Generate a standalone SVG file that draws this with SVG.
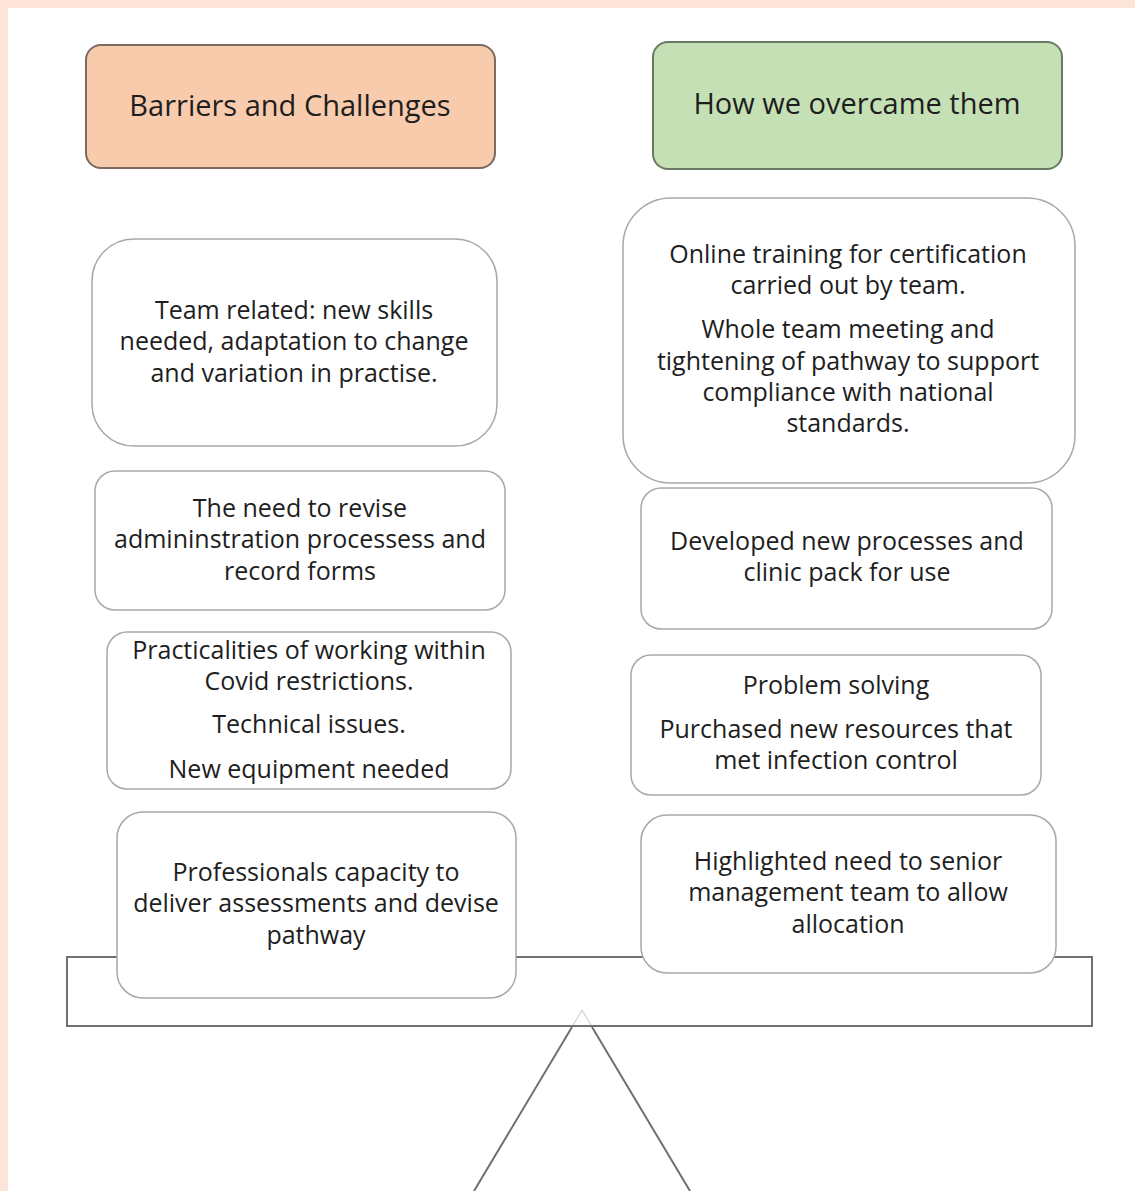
<svg xmlns="http://www.w3.org/2000/svg" width="1135" height="1191" viewBox="0 0 1135 1191">
<style>
.t{font-family:"Open Sans","Liberation Sans",Arial,sans-serif;font-size:25px;fill:#1e1e1e;text-anchor:middle}
.h{font-family:"Open Sans","Liberation Sans",Arial,sans-serif;font-size:29px;fill:#1e1e1e;text-anchor:middle}
.box{fill:#fff;stroke:#a8a8a8;stroke-width:1.5}
.ln{stroke:#707070;stroke-width:2;fill:none}
</style>
<rect x="0" y="0" width="1135" height="1191" fill="#fce4d9"/>
<rect x="8" y="8" width="1127" height="1183" fill="#fff"/>
<g id="seesaw">
<line x1="582" y1="1010" x2="572" y2="1027" stroke="#ddd" stroke-width="1.5"/>
<line x1="582" y1="1010" x2="592" y2="1027" stroke="#ddd" stroke-width="1.5"/>
<line class="ln" x1="572" y1="1027" x2="474" y2="1191"/>
<line class="ln" x1="592" y1="1027" x2="690" y2="1191"/>
<rect class="ln" x="67" y="957" width="1025" height="69" fill="#fff"/>
</g>
<g id="header-left">
<rect x="86" y="45" width="409" height="123" rx="15" fill="#f8cbad" stroke="#7a6a62" stroke-width="2"/>
<text class="h" x="290" y="116">Barriers and Challenges</text>
</g>
<g id="header-right">
<rect x="653" y="42" width="409" height="127" rx="15" fill="#c5e0b4" stroke="#6a7a62" stroke-width="2"/>
<text class="h" x="857" y="114">How we overcame them</text>
</g>
<g id="left1">
<rect class="box" x="92" y="239" width="405" height="207" rx="42"/>
<text class="t" x="294" y="319">Team related: new skills</text>
<text class="t" x="294" y="350">needed, adaptation to change</text>
<text class="t" x="294" y="382">and variation in practise.</text>
</g>
<g id="right1">
<rect class="box" x="623" y="198" width="452" height="285" rx="48"/>
<text class="t" x="848" y="263">Online training for certification</text>
<text class="t" x="848" y="294">carried out by team.</text>
<text class="t" x="848" y="338">Whole team meeting and</text>
<text class="t" x="848" y="370">tightening of pathway to support</text>
<text class="t" x="848" y="401">compliance with national</text>
<text class="t" x="848" y="432">standards.</text>
</g>
<g id="left2">
<rect class="box" x="95" y="471" width="410" height="139" rx="20"/>
<text class="t" x="300" y="517">The need to revise</text>
<text class="t" x="300" y="548">admininstration processess and</text>
<text class="t" x="300" y="580">record forms</text>
</g>
<g id="right2">
<rect class="box" x="641" y="488" width="411" height="141" rx="20"/>
<text class="t" x="847" y="550">Developed new processes and</text>
<text class="t" x="847" y="581">clinic pack for use</text>
</g>
<g id="left3">
<rect class="box" x="107" y="632" width="404" height="157" rx="20"/>
<text class="t" x="309" y="659">Practicalities of working within</text>
<text class="t" x="309" y="690">Covid restrictions.</text>
<text class="t" x="309" y="733">Technical issues.</text>
<text class="t" x="309" y="778">New equipment needed</text>
</g>
<g id="right3">
<rect class="box" x="631" y="655" width="410" height="140" rx="20"/>
<text class="t" x="836" y="694">Problem solving</text>
<text class="t" x="836" y="738">Purchased new resources that</text>
<text class="t" x="836" y="769">met infection control</text>
</g>
<g id="left4">
<rect class="box" x="117" y="812" width="399" height="186" rx="26"/>
<text class="t" x="316" y="881">Professionals capacity to</text>
<text class="t" x="316" y="912">deliver assessments and devise</text>
<text class="t" x="316" y="944">pathway</text>
</g>
<g id="right4">
<rect class="box" x="641" y="815" width="415" height="158" rx="26"/>
<text class="t" x="848" y="870">Highlighted need to senior</text>
<text class="t" x="848" y="901">management team to allow</text>
<text class="t" x="848" y="933">allocation</text>
</g>
</svg>
